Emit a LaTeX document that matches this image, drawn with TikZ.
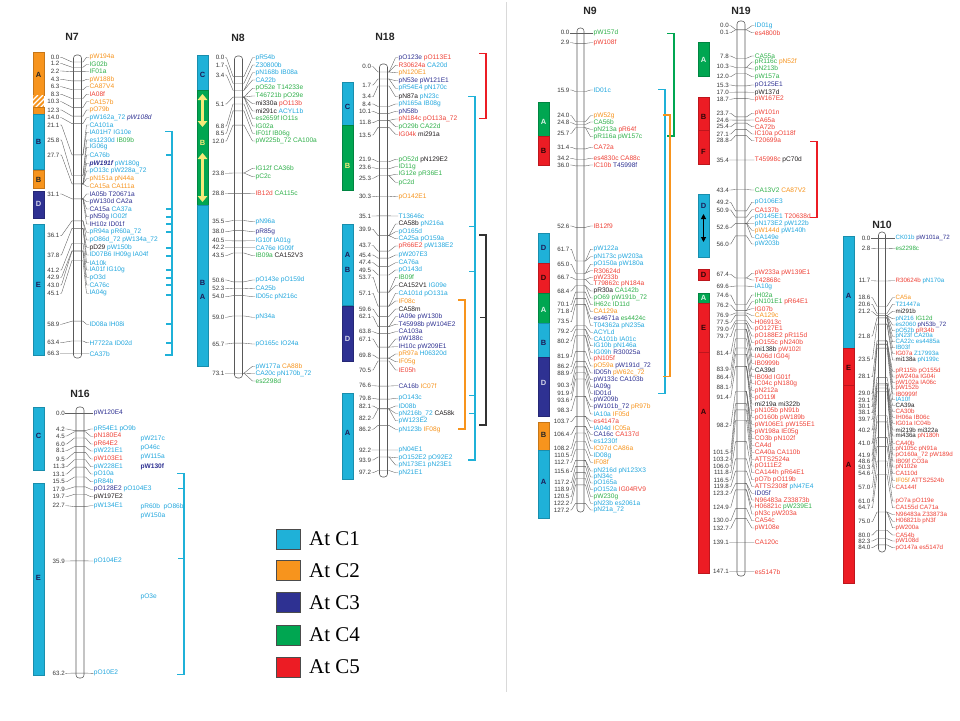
\documentclass[tikz,border=0pt]{standalone}
\usepackage{fontspec}
\setmainfont{Liberation Sans}
\newfontfamily\legfont{Liberation Serif}
\usetikzlibrary{arrows.meta}
\definecolor{rCa}{HTML}{1FB1D8}
\definecolor{rCb}{HTML}{F7941D}
\definecolor{rCc}{HTML}{2E3192}
\definecolor{rCd}{HTML}{00A651}
\definecolor{rCe}{HTML}{EC1C24}
\definecolor{tcy}{HTML}{22A7DE}
\definecolor{tor}{HTML}{F7941D}
\definecolor{tpu}{HTML}{2E3192}
\definecolor{tgr}{HTML}{2FB04A}
\definecolor{tre}{HTML}{EF4136}
\definecolor{tbk}{HTML}{231F20}
\definecolor{ylw}{HTML}{F4EA7A}
\newcommand\tcy{\color{tcy}}
\newcommand\tor{\color{tor}}
\newcommand\tpu{\color{tpu}}
\newcommand\tgr{\color{tgr}}
\newcommand\tre{\color{tre}}
\newcommand\tbk{\color{tbk}}
\newcommand\labfont{\fontsize{6.6}{7}\selectfont}
\newcounter{nn}
\newcommand\Setchrom[6]{\def\cx{#1}\def\cnx{#2}\def\clx{#3}\def\chw{#4}\def\cyz{#5}\def\cs{#6}}
\newcommand\Loc[2]{%
  \stepcounter{nn}%
  \pgfmathsetmacro\by{\cyz+\cs*(#1)}%
  \node[nlab] (n\arabic{nn}) at (\cnx,#2) {#1};%
  \coordinate (l\arabic{nn}) at (\cx-\chw,\by);%
  \coordinate (k\arabic{nn}) at (\cx+\chw,\by);%
  \draw[conn] (n\arabic{nn}.east) -- ++(1.5,0) -- (\cx-\chw-1.5,\by) -- (l\arabic{nn}) -- (k\arabic{nn});%
}
\newcommand\Lab[3]{%
  \stepcounter{nn}%
  \pgfmathsetmacro\by{\cyz+\cs*(#1)}%
  \node[mlab] (m\arabic{nn}) at (\clx,#2) {#3};%
  \coordinate (r\arabic{nn}) at (\cx+\chw,\by);%
  \draw[conn] (r\arabic{nn}) -- ++(1.5,0) -- (\clx-2.5,#2) -- (m\arabic{nn}.west);%
}
\newcommand\Bar[2]{\draw[barline] (\cx-\chw,#1) rectangle (\cx+\chw,#2);}
\newcommand\Reg[7]{%
  \stepcounter{nn}%
  \filldraw[fill=#4,draw=#4!80!black,line width=0.3pt] (#1,#2) rectangle (#1+11,#3);%
  \node[regl,text=#6] (g\arabic{nn}) at (#1+5.5,#7) {#5};%
}
\newcommand\Brk[4]{\draw[brk,#1] (#2-6,#3) -- (#2,#3) -- (#2,#4) -- (#2-6,#4);}
\newcommand\Ticks[3]{\foreach \t in {#3} {\draw[brk,#1] (#2-5,\t) -- (#2,\t);}}
\tikzset{
  conn/.style={draw=black!62,line width=0.38pt},
  barline/.style={draw=black!65,line width=0.55pt,rounded corners=3pt},
  nlab/.style={anchor=east,inner sep=0.4pt,text=black!78,font=\fontsize{6.2}{7}\selectfont},
  mlab/.style={anchor=west,inner sep=0.4pt,font=\labfont},
  regl/.style={inner sep=0pt,font=\bfseries\fontsize{7.5}{8}\selectfont},
  ttl/.style={inner sep=0pt,font=\bfseries\fontsize{10.5}{12}\selectfont,text=black!85},
  brk/.style={line width=1.1pt,line cap=rect},
  legbox/.style={draw=black!70,line width=0.4pt,minimum width=24pt,minimum height=20pt,inner sep=0pt},
  legtxt/.style={anchor=west,inner sep=0pt,font=\legfont\fontsize{21}{23}\selectfont},
  yarr/.style={draw=ylw,line width=2.2pt,{Triangle[width=9.5pt,length=6pt]}-{Triangle[width=9.5pt,length=6pt]}},
  barr/.style={draw=black,line width=1pt,{Triangle[width=5pt,length=5pt]}-{Triangle[width=5pt,length=5pt]}}
}
\begin{document}
\begin{tikzpicture}[x=1pt,y=-1pt]
\useasboundingbox (0,0) rectangle (960,720);
\fill[white] (0,0) rectangle (960,720);
\draw[black!15,line width=0.6pt] (506,2) -- (506,692);
% ================= N7
\node[ttl] (tN7) at (72,37) {N7};
\Reg{33}{52}{95}{rCb}{A}{black!85}{75}
\begin{scope}
\clip (33,95) rectangle (44,107);
\fill[rCb] (33,95) rectangle (44,107);
\foreach \i in {-24,-19,...,16} {\draw[white,line width=1.3pt] (33+\i,109) -- ++(14,-14);}
\end{scope}
\Reg{33}{107}{114}{rCb}{}{black}{110}
\Reg{33}{114}{169}{rCa}{B}{rCc!60!black}{141.7}
\Reg{33}{170}{188}{rCb}{B}{black!85}{180}
\Reg{33}{190.7}{218.3}{rCc}{D}{white!80!rCc}{204}
\Reg{33}{224}{355}{rCa}{E}{rCc!60!black}{285}
\Setchrom{77.5}{60}{89}{4}{62}{4.4}
\Bar{55}{358}
\Loc{0.0}{57.3}\Lab{0.0}{57.3}{\tor pW194a}
\Loc{1.2}{63.5}\Lab{1.2}{64.5}{\tgr IG02b}
\Loc{2.2}{71}\Lab{2.2}{71.5}{\tgr IF01a}
\Loc{4.3}{79.3}\Lab{4.3}{79.3}{\tor pW188b}
\Loc{6.3}{86.7}\Lab{6.3}{86.7}{\tor CA87V4}
\Loc{8.3}{94.3}\Lab{8.3}{94.3}{\tre IA08f}
\Loc{10.3}{101.7}\Lab{10.3}{101.7}{\tor CA157b}
\Loc{12.3}{110}\Lab{12.3}{110}{\tor pO79b}
\Loc{14.0}{117.7}\Lab{14.0}{117.7}{\tcy pW162a\_72 \tpu\itshape pW108d}
\Loc{21.1}{125}\Lab{21.1}{125}{\tcy CA101a}\Lab{21.1}{132.3}{\tcy IA01H7 IG10e}
\Loc{25.8}{140}\Lab{25.8}{140}{\tcy es1230d \tgr IB09b}\Lab{25.8}{147.3}{\tcy IG06g}
\Loc{27.7}{155}\Lab{27.7}{155}{\tcy CA76b}\Lab{27.7}{163.3}{\tpu\bfseries\itshape pW191f \tcy\mdseries\upshape pW180g}\Lab{27.7}{171}{\tcy pO13c pW228a\_72}\Lab{27.7}{178.7}{\tor pN151a pN44a}\Lab{27.7}{186.3}{\tor CA15a CA111a}
\Loc{31.1}{194}\Lab{31.1}{194}{\tpu IA05b T20671a}\Lab{31.1}{201.7}{\tpu pW130d CA2a}\Lab{31.1}{209}{\tpu CA15a \tcy CA37a}\Lab{31.1}{216.7}{\tpu pN50g \tcy IO02f}\Lab{31.1}{224}{\tpu IH10z ID01f}
\Loc{36.1}{235.7}\Lab{36.1}{232.3}{\tcy pR94a pR60a\_72}\Lab{36.1}{240}{\tcy pO86d\_72 pW134a\_72}
\Loc{37.8}{255}\Lab{37.8}{247.3}{\tbk pD29 \tcy pW150b}\Lab{37.8}{255}{\tcy ID07B6 IH09g IA04f}\Lab{37.8}{262.7}{\tcy IA10k}
\Loc{41.2}{270}\Lab{41.2}{270}{\tcy IA01f IG10g}
\Loc{42.9}{277.3}\Lab{42.9}{277.3}{\tcy pO3d}
\Loc{43.0}{285}\Lab{43.0}{285}{\tcy CA76c}
\Loc{45.1}{293.3}\Lab{45.1}{293.3}{\tcy IA04g}
\Loc{58.9}{324.3}\Lab{58.9}{324.3}{\tcy ID08a IH08i}
\Loc{63.4}{342.7}\Lab{63.4}{342.7}{\tcy H7722a ID02d}
\Loc{66.3}{353.7}\Lab{66.3}{353.7}{\tcy CA37b}
\Brk{rCa}{172}{131.7}{355}
\Ticks{rCa}{172}{155,209,217,224,232,248,256,270,278,285,295,324,343}
% ================= N8
\node[ttl] (tN8) at (238,38) {N8};
\Reg{197}{55}{90}{rCa}{C}{rCc!60!black}{75}
\Reg{197}{90}{205}{rCd}{B}{ylw}{143}
\draw[yarr] (202.5,94) -- (202.5,127);
\draw[yarr] (202.5,153) -- (202.5,202);
\Reg{197}{205}{366}{rCa}{B}{rCc!60!black}{283.3}
\node[regl,text=rCc!60!black] (gN8A) at (202.5,297.3) {A};
\Setchrom{238.5}{225}{255}{4}{76.4}{4.06}
\Bar{56}{378}
\Loc{0.0}{57.7}\Lab{0.0}{57.7}{\tcy pR54b}
\Loc{1.7}{65.5}\Lab{1.7}{65}{\tcy Z30800b}
\Loc{3.4}{75}\Lab{3.4}{72.7}{\tcy pN168b IB08a}\Lab{3.4}{80}{\tcy CA22b}
\Loc{5.1}{104}\Lab{5.1}{88.3}{\tgr pO52e T14233e}\Lab{5.1}{96}{\tgr T46721b pO29e}\Lab{5.1}{103.7}{\tbk mi330a \tre pO113b}\Lab{5.1}{111}{\tbk mi291c \tcy ACYL1b}\Lab{5.1}{118.5}{\tgr es2659f IO11s}
\Loc{6.8}{126}\Lab{6.8}{126}{\tgr IG02a}
\Loc{8.5}{133.3}\Lab{8.5}{133.3}{\tgr IF01f IB06g}
\Loc{12.0}{141}\Lab{12.0}{141}{\tgr pW225b\_72 CA100a}
\Loc{23.8}{173.3}\Lab{23.8}{168.3}{\tgr IG12f CA36b}\Lab{23.8}{176.7}{\tgr pC2c}
\Loc{28.8}{193.3}\Lab{28.8}{193.3}{\tre IB12d \tgr CA115c}
\Loc{35.5}{221.7}\Lab{35.5}{221.7}{\tcy pN96a}
\Loc{38.0}{231.7}\Lab{38.0}{231.7}{\tpu pR85g}
\Loc{40.5}{240.7}\Lab{40.5}{240.7}{\tcy IG10f IA01g}
\Loc{42.2}{247.7}\Lab{42.2}{247.7}{\tcy CA76e IG09f}
\Loc{43.5}{255.7}\Lab{43.5}{255.7}{\tgr IB09a \tbk CA152V3}
\Loc{50.6}{280}\Lab{50.6}{280}{\tcy pO143e pO159d}
\Loc{52.3}{288.3}\Lab{52.3}{288.3}{\tcy CA25b}
\Loc{54.0}{296.7}\Lab{54.0}{296.7}{\tcy ID05c pN216c}
\Loc{59.0}{317.3}\Lab{59.0}{317.3}{\tcy pN34a}
\Loc{65.7}{344}\Lab{65.7}{344}{\tcy pO165c IO24a}
\Loc{73.1}{373.3}\Lab{73.1}{366.3}{\tcy pW177a \tor CA88b}\Lab{73.1}{373.5}{\tcy CA20c pN170b\_72}\Lab{73.1}{381}{\tgr es2298d}
% ================= N18
\node[ttl] (tN18) at (385,37) {N18};
\Reg{342}{81.7}{125}{rCa}{C}{rCc!60!black}{107}
\Reg{342}{125}{190}{rCd}{B}{ylw}{166}
\Reg{342}{224}{305}{rCa}{A}{rCc!60!black}{255}
\node[regl,text=rCc!60!black] (gN18B) at (347.5,270) {B};
\Reg{342}{306}{360.7}{rCc}{D}{white!80!rCc}{339}
\Reg{342}{393.3}{479}{rCa}{A}{rCc!60!black}{433}
\Setchrom{383.5}{371.7}{398}{4}{72}{4.1}
\Bar{64}{477}
\Loc{0.0}{66.7}\Lab{0.0}{57.7}{\tpu pO123e \tre pO113E1}\Lab{0.0}{65.3}{\tre R30624a \tcy CA20d}\Lab{0.0}{72.7}{\tor pN120E1}
\Loc{1.7}{85}\Lab{1.7}{80.7}{\tpu pN53e pW121E1}\Lab{1.7}{88.3}{\tcy pR54E4 pN170c}
\Loc{3.4}{96.7}\Lab{3.4}{96.7}{\tbk pN87a \tcy pN23c}
\Loc{8.4}{104}\Lab{8.4}{104}{\tcy pN165a IB08g}
\Loc{10.1}{111.3}\Lab{10.1}{111.3}{\tpu pN58b}
\Loc{11.8}{122.7}\Lab{11.8}{119}{\tre pN184c pO113a\_72}\Lab{11.8}{126.7}{\tgr pO29b CA22d}
\Loc{13.5}{135}\Lab{13.5}{134.3}{\tre IG04k \tbk mi291a}
\Loc{21.9}{159.3}\Lab{21.9}{159.3}{\tgr pO52d \tbk pN129E2}
\Loc{23.6}{167.7}\Lab{23.6}{166.7}{\tgr ID11g}
\Loc{25.3}{178.3}\Lab{25.3}{174.3}{\tgr IG12e pR36E1}\Lab{25.3}{182.3}{\tgr pC2d}
\Loc{30.3}{196.7}\Lab{30.3}{196.7}{\tor pO142E1}
\Loc{35.1}{216}\Lab{35.1}{216}{\tcy T13646c}
\Loc{39.9}{229.3}\Lab{39.9}{224}{\tbk CA58b \tcy pN216a}\Lab{39.9}{231.7}{\tcy pO165d}\Lab{39.9}{238.7}{\tcy CA25a pO159a}
\Loc{43.7}{245.5}\Lab{43.7}{246}{\tre pR66E2 \tcy pW138E2}
\Loc{45.4}{255}\Lab{45.4}{255}{\tcy pW207E3}
\Loc{47.4}{262.7}\Lab{47.4}{262.7}{\tcy CA76a}
\Loc{49.5}{270}\Lab{49.5}{270}{\tcy pO143d}
\Loc{53.7}{277.3}\Lab{53.7}{277.3}{\tgr IB09f}\Lab{53.7}{285.5}{\tbk CA152V1 \tcy IG09e}
\Loc{57.1}{293.3}\Lab{57.1}{293.3}{\tcy CA101d pO131a}\Lab{57.1}{301}{\tor IF08c}
\Loc{59.6}{309}\Lab{59.6}{309}{\tbk CA58m}
\Loc{62.1}{316.7}\Lab{62.1}{316.7}{\tpu IA09e pW130b}\Lab{62.1}{324.3}{\tpu T45998b pW104E2}
\Loc{63.8}{331.7}\Lab{63.8}{331.7}{\tpu CA103a}
\Loc{67.1}{339}\Lab{67.1}{339}{\tpu pW188c}\Lab{67.1}{346.7}{\tpu IH10c pW209E1}
\Loc{69.8}{355}\Lab{69.8}{354}{\tor pR97a \tcy H06320d}\Lab{69.8}{361.7}{\tor IF05g}
\Loc{70.5}{370}\Lab{70.5}{370}{\tre IE05h}
\Loc{76.6}{385.7}\Lab{76.6}{385.7}{\tpu CA16b \tor IC07f}
\Loc{79.8}{398.3}\Lab{79.8}{398.3}{\tcy pO143c}
\Loc{82.1}{406}\Lab{82.1}{406}{\tcy ID08b}
\Loc{82.2}{418.3}\Lab{82.2}{413.3}{\tcy pN216b\_72 \tbk CA58k}\Lab{82.2}{420.7}{\tcy pW123E2}
\Loc{86.2}{429.3}\Lab{86.2}{429.3}{\tcy pN123b \tor IF08g}
\Loc{92.2}{450}\Lab{92.2}{450}{\tcy pN04E1}
\Loc{93.9}{460}\Lab{93.9}{457.7}{\tcy pO152E2 pO92E2}\Lab{93.9}{465}{\tcy pN173E1 pN23E1}
\Loc{97.2}{472.7}\Lab{97.2}{472.7}{\tcy pN21E1}
\Brk{rCe}{486}{53.3}{118.3}
\Brk{rCa}{475}{96.7}{460}
\Ticks{rCa}{475}{226.7,271.7,395.7,413.3}
\Brk{black!80}{486}{235}{425}
\Ticks{black!80}{486}{317.7}
\Brk{rCb}{465}{300}{429}
% ================= N16
\node[ttl] (tN16) at (80,394) {N16};
\Reg{33}{407}{470}{rCa}{C}{rCc!60!black}{436}
\Reg{33}{483}{675}{rCa}{E}{rCc!60!black}{578}
\Setchrom{80}{65.3}{93.3}{4}{413.3}{4.11}
\Bar{407}{678}
\Loc{0.0}{413.3}\Lab{0.0}{413.3}{\tpu pW120E4}
\Loc{4.2}{429}\Lab{4.2}{429}{\tcy pR54E1 pO9b}
\Loc{4.5}{436}\Lab{4.5}{436.3}{\tre pN180E4}
\Loc{6.0}{444}\Lab{6.0}{444}{\tre pR64E2}
\Loc{8.1}{450.7}\Lab{8.1}{451}{\tcy pW221E1}
\Loc{9.5}{459}\Lab{9.5}{459}{\tre pW103E1}
\Loc{11.3}{466.7}\Lab{11.3}{466.7}{\tcy pW228E1}
\Loc{13.1}{474}\Lab{13.1}{474}{\tcy pO10a}
\Loc{15.5}{481.7}\Lab{15.5}{481.7}{\tcy pR84b}
\Loc{17.9}{489.3}\Lab{17.9}{489.3}{\tpu pO128E2 \tcy pO104E3}
\Loc{19.7}{496.7}\Lab{19.7}{496.7}{\tbk pW197E2}
\Loc{22.7}{505.7}\Lab{22.7}{505.7}{\tcy pW134E1}
\Loc{35.9}{561}\Lab{35.9}{561}{\tcy pO104E2}
\Loc{63.2}{673.3}\Lab{63.2}{673.3}{\tcy pO10E2}
\node[mlab] (fa) at (140,439.3) {\tcy pW217c};
\node[mlab] (fb) at (140,448.3) {\tcy pO46c};
\node[mlab] (fc) at (140,457.3) {\tcy pW115a};
\node[mlab] (fd) at (140,466.7) {\tpu\bfseries pW130f};
\node[mlab] (fe) at (140,506.7) {\tcy pR60b\ \ pO86b};
\node[mlab] (ff) at (140,516) {\tcy pW150a};
\node[mlab] (fg) at (140,596.7) {\tcy pO3e};
\Brk{rCa}{184}{473.3}{674.3}
\Ticks{rCa}{184}{488.3,558.3}
% ================= Legend
\node[legbox,fill=rCa] (lg1) at (288,539) {};
\node[legtxt] (lt1) at (309,539) {At C1};
\node[legbox,fill=rCb] (lg2) at (288,570.5) {};
\node[legtxt] (lt2) at (309,570.5) {At C2};
\node[legbox,fill=rCc] (lg3) at (288,602.5) {};
\node[legtxt] (lt3) at (309,602.5) {At C3};
\node[legbox,fill=rCd] (lg4) at (288,635) {};
\node[legtxt] (lt4) at (309,635) {At C4};
\node[legbox,fill=rCe] (lg5) at (288,667) {};
\node[legtxt] (lt5) at (309,667) {At C5};
% ================= N9
\node[ttl] (tN9) at (590,11) {N9};
\Reg{538}{101.7}{136}{rCd}{A}{white!85!rCd}{121.7}
\Reg{538}{136}{165}{rCe}{B}{black!80!rCe}{150.7}
\Reg{538}{233}{263}{rCa}{D}{rCc!60!black}{248}
\Reg{538}{263}{293}{rCe}{D}{black!80!rCe}{278}
\Reg{538}{293}{323}{rCd}{A}{white!85!rCd}{310}
\Reg{538}{323}{356.7}{rCa}{B}{rCc!60!black}{343}
\Reg{538}{356.7}{415.7}{rCc}{D}{white!80!rCc}{383}
\Reg{538}{421.7}{450}{rCb}{B}{black!85}{435}
\Reg{538}{450}{518}{rCa}{A}{rCc!60!black}{482}
\Setchrom{580.5}{570}{593}{3.5}{32.7}{3.7}
\Bar{28}{512}
\Loc{0.0}{32.7}\Lab{0.0}{32.7}{\tgr pW157d}
\Loc{2.9}{42.7}\Lab{2.9}{42.7}{\tre pW108f}
\Loc{15.9}{90}\Lab{15.9}{90}{\tcy ID01c}
\Loc{24.0}{115.7}\Lab{24.0}{115.7}{\tor pW52g}
\Loc{24.8}{122.7}\Lab{24.8}{122}{\tgr CA56b}
\Loc{25.7}{133.3}\Lab{25.7}{129.3}{\tgr pN213a \tre pR64f}\Lab{25.7}{136.7}{\tgr pR116a pW157c}
\Loc{31.4}{147.3}\Lab{31.4}{147.3}{\tre CA72a}
\Loc{34.2}{158.3}\Lab{34.2}{158.3}{\tre es4830c CA88c}
\Loc{36.0}{165}\Lab{36.0}{165}{\tre IC10b \tpu T45998f}
\Loc{52.6}{226}\Lab{52.6}{226}{\tre IB12f9}
\Loc{61.7}{249.3}\Lab{61.7}{249.3}{\tcy pW122a}\Lab{61.7}{256.7}{\tcy pN173c pW203a}
\Loc{65.0}{264.3}\Lab{65.0}{264.3}{\tcy pO150a pW180a}\Lab{65.0}{270.7}{\tre R30624d}
\Loc{66.7}{277.3}\Lab{66.7}{277.3}{\tre pW233b}\Lab{66.7}{284.3}{\tre T79862c pN184a}
\Loc{68.4}{291}\Lab{68.4}{291}{\tbk pR30a \tgr CA142b}\Lab{68.4}{298}{\tgr pO69 pW191b\_72}
\Loc{70.1}{304.5}\Lab{70.1}{304.5}{\tgr IH62c ID11d}
\Loc{71.8}{311.7}\Lab{71.8}{311.5}{\tor CA129a}
\Loc{73.5}{321.7}\Lab{73.5}{318.5}{\tpu es4671a \tgr es4424c}\Lab{73.5}{325.5}{\tcy T04362a pN235a}
\Loc{79.2}{331.7}\Lab{79.2}{332.3}{\tcy ACYLd}
\Loc{80.2}{341}\Lab{80.2}{339}{\tcy CA101b IA01c}\Lab{80.2}{345.7}{\tcy IG10b pN146a}
\Loc{81.9}{356.7}\Lab{81.9}{352.3}{\tcy IG09h \tpu R30025a}\Lab{81.9}{359}{\tre pN105f}
\Loc{86.2}{366.5}\Lab{86.2}{366}{\tor pO59a \tpu pW191d\_72}
\Loc{88.9}{373.3}\Lab{88.9}{373}{\tpu ID05h \tor pW62c\_72}
\Loc{90.3}{385}\Lab{90.3}{379.7}{\tpu pW133c CA103b}\Lab{90.3}{386.5}{\tpu IA09g}
\Loc{91.9}{393.3}\Lab{91.9}{393.3}{\tpu ID01d}
\Loc{93.6}{400}\Lab{93.6}{400}{\tpu pW209b}
\Loc{98.3}{410.7}\Lab{98.3}{406.7}{\tpu pW101b\_72 \tor pR97b}\Lab{98.3}{414}{\tcy IA10a \tor IF05d}
\Loc{103.7}{421.7}\Lab{103.7}{421}{\tre es4147a}\Lab{103.7}{427.7}{\tcy IA04d \tor IC05a}
\Loc{106.4}{434.3}\Lab{106.4}{434.3}{\tpu CA16c \tre CA137d}\Lab{106.4}{441}{\tcy es1230f}
\Loc{108.2}{448.3}\Lab{108.2}{448.3}{\tor IC07d CA86a}
\Loc{110.5}{455.5}\Lab{110.5}{455.5}{\tcy ID08g}
\Loc{112.7}{462.3}\Lab{112.7}{462.3}{\tor IF08f}
\Loc{115.6}{471.7}\Lab{115.6}{471}{\tcy pN216d pN123X3}\Lab{115.6}{477}{\tcy pN34c}
\Loc{117.2}{482.7}\Lab{117.2}{483}{\tcy pO165a}
\Loc{118.9}{489.3}\Lab{118.9}{489.5}{\tcy pO152a \tre IG04RV9}
\Loc{120.5}{496.5}\Lab{120.5}{496.5}{\tgr pW230g}
\Loc{122.2}{503.3}\Lab{122.2}{503.3}{\tcy pN23b es2061a}
\Loc{127.2}{510}\Lab{127.2}{510}{\tcy pN21a\_72}
\Brk{rCd}{674}{33.3}{136}
\Brk{rCa}{665}{89.3}{393.3}
\Brk{rCb}{670}{115}{376.7}
% ================= N19
\node[ttl] (tN19) at (741,11) {N19};
\Reg{698}{41.7}{76}{rCd}{A}{white!85!rCd}{60}
\Reg{698}{96.7}{130.5}{rCe}{B}{black!80!rCe}{117}
\Reg{698}{130.5}{164}{rCe}{F}{black!80!rCe}{152}
\Reg{698}{194}{257.3}{rCa}{D}{rCc!60!black}{206}
\draw[barr] (703.5,214) -- (703.5,242);
\Reg{698}{269.3}{280}{rCe}{D}{black!80!rCe}{275}
\Reg{698}{293.3}{303.3}{rCd}{A}{white!85!rCd}{298.3}
\Reg{698}{303.3}{351.7}{rCe}{E}{black!80!rCe}{328}
\Reg{698}{351.7}{573}{rCe}{A}{black!80!rCe}{412}
\Setchrom{741}{729.3}{754.3}{4}{29.5}{3.686}
\Bar{21}{576}
\Loc{0.0}{25.7}\Lab{0.0}{25.7}{\tcy ID01g}
\Loc{0.1}{32.7}\Lab{0.1}{32.7}{\tre es4800b}
\Loc{7.8}{56}\Lab{7.8}{56}{\tgr CA55a}
\Loc{10.3}{66}\Lab{10.3}{62}{\tgr pR116c \tor pN52f}\Lab{10.3}{69}{\tgr pN213b}
\Loc{12.0}{76.7}\Lab{12.0}{76.7}{\tgr pW157a}
\Loc{15.3}{85}\Lab{15.3}{85}{\tpu pO125E1}
\Loc{17.0}{92.3}\Lab{17.0}{92.3}{\tbk pW137d}
\Loc{18.7}{99.3}\Lab{18.7}{99.3}{\tre pW167E2}
\Loc{23.7}{113.3}\Lab{23.7}{113.3}{\tre pW101n}
\Loc{24.6}{120}\Lab{24.6}{120}{\tre CA65a}
\Loc{25.4}{126.7}\Lab{25.4}{126.7}{\tre CA72b}
\Loc{27.1}{134}\Lab{27.1}{134}{\tre IC10a pO118f}
\Loc{28.8}{140.7}\Lab{28.8}{140.7}{\tre T20699a}
\Loc{35.4}{160}\Lab{35.4}{160}{\tre T45998c \tbk pC70d}
\Loc{43.4}{190}\Lab{43.4}{190}{\tgr CA13V2 \tor CA87V2}
\Loc{49.2}{202.3}\Lab{49.2}{202.3}{\tcy pO106E3}
\Loc{50.9}{210}\Lab{50.9}{209.7}{\tre CA137b}
\Loc{52.6}{227.7}\Lab{52.6}{216.7}{\tcy pO145E1 \tre T20638d}\Lab{52.6}{223.5}{\tcy pN173E2 pW122b}\Lab{52.6}{230.3}{\tor pW144d \tcy pW140h}\Lab{52.6}{237.3}{\tcy CA149e}
\Loc{56.0}{244}\Lab{56.0}{244}{\tcy pW203b}
\Loc{67.4}{274.3}\Lab{67.4}{273.3}{\tre pW233a pW139E1}\Lab{67.4}{280}{\tre T42868c}
\Loc{69.6}{286.7}\Lab{69.6}{286.7}{\tcy IA10g}
\Loc{74.6}{295}\Lab{74.6}{295}{\tgr IH02a}
\Loc{76.2}{305}\Lab{76.2}{301.7}{\tgr pN101E1 \tre pR64E1}\Lab{76.2}{308.7}{\tre IG07b}
\Loc{76.9}{315}\Lab{76.9}{315.5}{\tor CA129c}
\Loc{77.5}{322.3}\Lab{77.5}{322.3}{\tre H06913c}
\Loc{79.0}{329}\Lab{79.0}{329}{\tre pO127E1}
\Loc{79.7}{336.7}\Lab{79.7}{336}{\tre pO188E2 pR115d}\Lab{79.7}{342.7}{\tre pO155c pN240b}
\Loc{81.4}{353.3}\Lab{81.4}{350}{\tbk mi138b \tre pW102l}\Lab{81.4}{356.7}{\tre IA06d IG04j}\Lab{81.4}{363.3}{\tre IB0999b}
\Loc{83.9}{369.3}\Lab{83.9}{369.7}{\tbk CA39d}
\Loc{86.4}{377.3}\Lab{86.4}{376.7}{\tre IB09d IG01f}
\Loc{88.1}{387.3}\Lab{88.1}{383.5}{\tre IC04c pN180g}\Lab{88.1}{390.5}{\tre pN212a}
\Loc{91.4}{397.3}\Lab{91.4}{397.3}{\tre pO119l}\Lab{91.4}{404}{\tbk mi219a mi322b}\Lab{91.4}{410.7}{\tre pN105b pN91b}\Lab{91.4}{417.3}{\tre pO160b pW189b}
\Loc{98.2}{425.7}\Lab{98.2}{424.5}{\tre pW106E1 pW155E1}\Lab{98.2}{431.7}{\tre pW198a IE05g}\Lab{98.2}{438.7}{\tre CO3b pN102f}\Lab{98.2}{445.5}{\tre CA4d}
\Loc{101.5}{452.3}\Lab{101.5}{452.3}{\tre CA40a CA110b}
\Loc{103.2}{459.5}\Lab{103.2}{459.3}{\tre ATTS2524a}
\Loc{106.0}{466}\Lab{106.0}{466}{\tre pO111E2}
\Loc{111.8}{472.7}\Lab{111.8}{472.7}{\tre CA144h pR64E1}
\Loc{116.5}{480}\Lab{116.5}{479.7}{\tre pO7b pO119b}
\Loc{119.8}{486.7}\Lab{119.8}{486.5}{\tre ATTS2308f \tcy pN47E4}
\Loc{123.2}{493.3}\Lab{123.2}{493.3}{\tpu ID05f}\Lab{123.2}{500}{\tre N96483a Z33873b}
\Loc{124.9}{507.3}\Lab{124.9}{507}{\tre H06821c \tgr pW239E1}\Lab{124.9}{514}{\tre pN3c pW203a}
\Loc{130.0}{520.7}\Lab{130.0}{520.7}{\tre CA54c}
\Loc{132.7}{528.3}\Lab{132.7}{528}{\tre pW108e}
\Loc{139.1}{542.3}\Lab{139.1}{542.3}{\tre CA120c}
\Loc{147.1}{571.7}\Lab{147.1}{571.7}{\tre es5147b}
\Brk{rCe}{817}{141.7}{217.3}
% ================= N10
\renewcommand\labfont{\fontsize{6.2}{6.5}\selectfont}
\node[ttl] (tN10) at (882,225) {N10};
\Reg{843}{236}{348.3}{rCa}{A}{rCc!60!black}{296}
\Reg{843}{348.3}{385}{rCe}{E}{black!80!rCe}{368}
\Reg{843}{385}{583}{rCe}{A}{black!80!rCe}{465}
\Setchrom{882}{871}{895}{3.5}{238.3}{3.65}
\Bar{232}{552}
\Loc{0.0}{238.3}\Lab{0.0}{238.3}{\tcy CK01b \tpu pW101a\_72}
\Loc{2.8}{248.3}\Lab{2.8}{248.3}{\tgr es2298c}
\Loc{11.7}{280.7}\Lab{11.7}{280.7}{\tre R30624b \tcy pN170a}
\Loc{18.6}{297.7}\Lab{18.6}{297.7}{\tor CA5a}
\Loc{20.6}{304.3}\Lab{20.6}{304.3}{\tcy T21447a}
\Loc{21.2}{311.7}\Lab{21.2}{311.3}{\tbk mi291b}\Lab{21.2}{318.7}{\tcy pN216 \tgr IG12d}\Lab{21.2}{325}{\tcy es2060 \tpu pN53b\_72}\Lab{21.2}{330.8}{\tcy pO52b \tre pR34b}
\Loc{21.8}{336}\Lab{21.8}{336.3}{\tcy pN23f CA20a}\Lab{21.8}{341.8}{\tcy CA22c es4485a}\Lab{21.8}{347.7}{\tcy IB03f}
\Loc{23.5}{359}\Lab{23.5}{353.5}{\tre IG07a \tcy Z17993a}\Lab{23.5}{360}{\tbk mi138a \tcy pN199c}
\Loc{28.1}{376.7}\Lab{28.1}{371.3}{\tre pR115b pO155d}\Lab{28.1}{377}{\tre pW240a IG04i}\Lab{28.1}{382.7}{\tre pW102a IA06c}
\Loc{29.0}{393.3}\Lab{29.0}{388.3}{\tre pW152b}
\Loc{29.1}{400}\Lab{29.1}{394}{\tre IB0999f}
\Loc{30.1}{406.7}\Lab{30.1}{399.7}{\tcy IA10f}
\Loc{38.1}{412.7}\Lab{38.1}{405.5}{\tbk CA39a}
\Loc{39.7}{419.3}\Lab{39.7}{411.5}{\tre CA30b}\Lab{39.7}{417.3}{\tre IH06a IB06c}\Lab{39.7}{423.3}{\tre IG01a IC04b}
\Loc{40.2}{430}\Lab{40.2}{430}{\tbk mi219b mi322a}\Lab{40.2}{436}{\tbk mi436a \tre pN180h}
\Loc{41.0}{443.3}\Lab{41.0}{443.3}{\tre CA40b}\Lab{41.0}{449.3}{\tre pN105c pN91a}
\Loc{41.9}{455}\Lab{41.9}{455}{\tre pO160a\_72 pW189d}
\Loc{48.6}{461}\Lab{48.6}{461}{\tre IB09f CO3a}
\Loc{50.3}{467}\Lab{50.3}{467}{\tre pN102e}
\Loc{54.6}{473.5}\Lab{54.6}{473.5}{\tre CA110d}\Lab{54.6}{480.5}{\tor IF05f \tre ATTS2524b}
\Loc{57.0}{487.3}\Lab{57.0}{487.3}{\tre CA144f}
\Loc{61.0}{501}\Lab{61.0}{501}{\tre pO7a pO119e}
\Loc{64.7}{507.7}\Lab{64.7}{507.7}{\tre CA155d CA71a}
\Loc{75.0}{521.7}\Lab{75.0}{514.5}{\tre N96483a Z33873a}\Lab{75.0}{521.3}{\tre H06821b pN3f}\Lab{75.0}{527.7}{\tre pW200a}
\Loc{80.0}{535}\Lab{80.0}{535}{\tre CA54b}
\Loc{82.3}{541}\Lab{82.3}{541}{\tre pW108d}
\Loc{84.0}{547.7}\Lab{84.0}{547.7}{\tre pO147a es5147d}
\end{tikzpicture}
\end{document}
